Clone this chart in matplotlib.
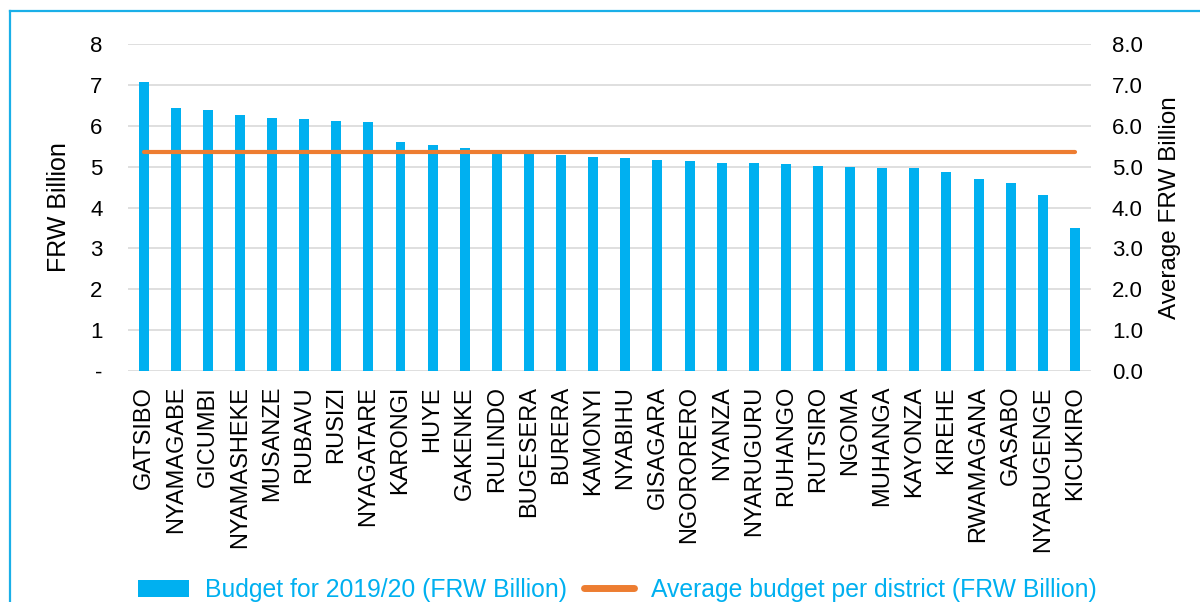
import matplotlib
matplotlib.use('Agg')
import matplotlib.pyplot as plt
from matplotlib.lines import Line2D
from matplotlib.patches import Patch

# District budgets 2019/20 (FRW Billion)
districts = ['GATSIBO', 'NYAMAGABE', 'GICUMBI', 'NYAMASHEKE', 'MUSANZE', 'RUBAVU',
             'RUSIZI', 'NYAGATARE', 'KARONGI', 'HUYE', 'GAKENKE', 'RULINDO',
             'BUGESERA', 'BURERA', 'KAMONYI', 'NYABIHU', 'GISAGARA', 'NGORORERO',
             'NYANZA', 'NYARUGURU', 'RUHANGO', 'RUTSIRO', 'NGOMA', 'MUHANGA',
             'KAYONZA', 'KIREHE', 'RWAMAGANA', 'GASABO', 'NYARUGENGE', 'KICUKIRO']
budget = [7.08, 6.45, 6.39, 6.27, 6.19, 6.16, 6.11, 6.09, 5.60, 5.53, 5.46, 5.34,
          5.32, 5.28, 5.25, 5.21, 5.16, 5.13, 5.09, 5.08, 5.06, 5.02, 4.99, 4.98,
          4.96, 4.88, 4.69, 4.59, 4.31, 3.51]
average = [5.37] * len(districts)

left_ticks = ['-', '1', '2', '3', '4', '5', '6', '7', '8']
right_ticks = ['0.0', '1.0', '2.0', '3.0', '4.0', '5.0', '6.0', '7.0', '8.0']

BAR_COLOR = '#00B0F0'
LINE_COLOR = '#ED7D31'
GRID_COLOR = '#D9D9D9'

plt.rcParams['font.family'] = ['Liberation Sans', 'DejaVu Sans']

fig = plt.figure(figsize=(12, 6.02), dpi=100)
ax = fig.add_axes([0.10625, 0.3842, 0.8029, 0.5422])
ax2 = ax.twinx()

x = list(range(len(districts)))
ax.bar(x, budget, width=0.31, color=BAR_COLOR, zorder=2)
ax2.plot(x, average, color=LINE_COLOR, linewidth=3.0, solid_capstyle='round', zorder=3)

for a in (ax, ax2):
    a.set_ylim(0, 8)
    a.set_xlim(-0.5, len(districts) - 0.5)
    for s in a.spines.values():
        s.set_visible(False)
    a.tick_params(length=0)

ax.set_yticks(range(9))
ax.set_yticklabels(left_ticks, fontsize=16)
ax.tick_params(axis='y', pad=18)
ax2.set_yticks(range(9))
ax2.set_yticklabels(right_ticks, fontsize=16)
ax2.tick_params(axis='y', pad=15)

ax.set_xticks(x)
ax.set_xticklabels(districts, rotation=90, fontsize=17)
ax.tick_params(axis='x', pad=11)

ax.yaxis.grid(True, color=GRID_COLOR, linewidth=1.2, zorder=0)
ax.set_axisbelow(True)

ax.set_ylabel('FRW Billion', fontsize=18, labelpad=14)
ax2.set_ylabel('Average FRW Billion', fontsize=17.5, labelpad=12)

# legend sits at the very bottom edge, as in the source
handles = [Patch(facecolor=BAR_COLOR, edgecolor='none'),
           Line2D([0], [0], color=LINE_COLOR, linewidth=5, solid_capstyle='round')]
labels = ['Budget for 2019/20 (FRW Billion)', 'Average budget per district (FRW Billion)']
leg = fig.legend(handles, labels, loc='center', bbox_to_anchor=(0.5145, 12 / 602),
                 ncol=2, frameon=False, fontsize=17.8, handlelength=2.06,
                 handletextpad=0.65, columnspacing=0.65)
for t in leg.get_texts():
    t.set_color(BAR_COLOR)

# outer frame (left and top edges)
W, H = 1200, 602
fig.add_artist(Line2D([9.5 / W, 9.5 / W], [0, 1 - 11 / H], transform=fig.transFigure,
                      color='#1AAFE8', linewidth=1.6))
fig.add_artist(Line2D([9.5 / W, 1], [1 - 11 / H, 1 - 11 / H], transform=fig.transFigure,
                      color='#1AAFE8', linewidth=1.6))

fig.savefig('out.png', dpi=100, facecolor='white')
